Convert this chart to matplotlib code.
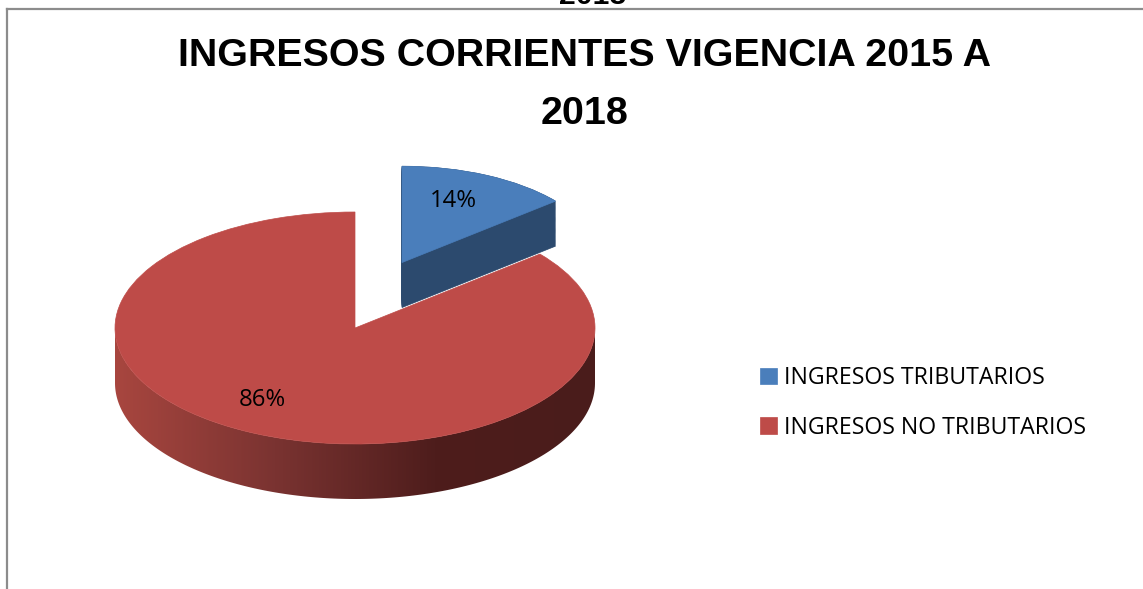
import numpy as np
import matplotlib
matplotlib.use('Agg')
import matplotlib.pyplot as plt
from matplotlib import font_manager
from matplotlib.colors import LinearSegmentedColormap
from matplotlib.patches import Polygon
from matplotlib.lines import Line2D

# ---------------- data ----------------
categories = ['INGRESOS TRIBUTARIOS', 'INGRESOS NO TRIBUTARIOS']
shares = [14, 86]
title_lines = ['INGRESOS CORRIENTES VIGENCIA 2015 A', '2018']
cut_title = '2018'

# ---------------- style ----------------
blue_top = '#4A7EBB'
blue_side = '#2C4A6E'
red_top = '#BE4B48'
red_side_cols = ['#A8463F', '#7A3331', '#4E1D1C', '#4A1C1B']

W, H = 1143, 589
fig = plt.figure(figsize=(W / 100, H / 100), dpi=100)
fig.patch.set_facecolor('white')

avail = {f.name for f in font_manager.fontManager.ttflist}


def pick(*names):
    for n in names:
        if n in avail:
            return n
    return 'DejaVu Sans'


bold_font = pick('Liberation Sans', 'DejaVu Sans')
regular = pick('Liberation Sans Narrow', 'Open Sans', 'Liberation Sans')

renderer = fig.canvas.get_renderer()


def fit_size(text, target_px, family, weight='normal', base=20):
    t = fig.text(0, 0, text, fontsize=base, family=family, weight=weight)
    w = t.get_window_extent(renderer).width
    t.remove()
    return base * target_px / w


# ---------------- geometry (pixels) ----------------
cx, cy = 355, 328      # centre of the top ellipse
a, b = 240, 116        # semi axes
d_red = 55 / b
d_blue = 45 / b
explode_blue = 0.5
r_blue = 0.83
blue_shift = (-0.017, 0.112)   # perspective correction of the exploded slice

ax = fig.add_axes([0, 0, 1, 1])
xlim = (-cx / a, (W - cx) / a)
ylim = (-(H - cy) / b, cy / b)

# blue exploded slice: side (stacked), then top
for off in np.linspace(d_blue, 0, 50):
    sw, _ = ax.pie(shares, colors=[blue_side, 'none'], startangle=90, counterclock=False,
                   explode=[explode_blue, 0], radius=r_blue,
                   center=(blue_shift[0], blue_shift[1] - off),
                   wedgeprops=dict(linewidth=0, zorder=1))
    sw[0].set_edgecolor(blue_side)
    sw[0].set_linewidth(0.5)
bw, _ = ax.pie(shares, colors=[blue_top, 'none'], startangle=90, counterclock=False,
               explode=[explode_blue, 0], radius=r_blue, center=blue_shift,
               wedgeprops=dict(linewidth=0, zorder=2))
bw[0].set_edgecolor(blue_top)
bw[0].set_linewidth(0.5)

# red side band with gradient
th = np.linspace(np.pi, 2 * np.pi, 200)
upper = np.column_stack([np.cos(th), np.sin(th)])
lower = np.column_stack([np.cos(th[::-1]), np.sin(th[::-1]) - d_red])
band = Polygon(np.vstack([upper, lower]), closed=True, facecolor='none',
               edgecolor='none', transform=ax.transData)
ax.add_patch(band)
cmap = LinearSegmentedColormap.from_list('side', red_side_cols)
grad = np.linspace(0, 1, 256).reshape(1, -1)
im = ax.imshow(grad, cmap=cmap, extent=(-1, 1, -1 - d_red, 0), aspect='auto',
               zorder=3, interpolation='bilinear')
im.set_clip_path(band)

# red top
rw, _ = ax.pie(shares, colors=['none', red_top], startangle=90, counterclock=False,
               radius=1, wedgeprops=dict(linewidth=0, zorder=4))
rw[1].set_edgecolor(red_top)
rw[1].set_linewidth(0.5)

# percentage labels
fracs = np.array(shares) / np.sum(shares)
starts = 90 - 360 * np.concatenate([[0], np.cumsum(fracs)[:-1]])
mids = np.deg2rad(starts - 180 * fracs)
lab_size = fit_size('86%', 47, regular)
bx = explode_blue * np.cos(mids[0]) + blue_shift[0]
by = explode_blue * np.sin(mids[0]) + blue_shift[1]
ax.text(bx + 0.61 * r_blue * np.cos(mids[0]), by + 0.71 * r_blue * np.sin(mids[0]),
        f'{shares[0]}%', ha='center', va='center', fontsize=lab_size,
        family=regular, color='black', zorder=6)
ax.text(0.91 * np.cos(mids[1]), 0.686 * np.sin(mids[1]),
        f'{shares[1]}%', ha='center', va='center', fontsize=lab_size,
        family=regular, color='black', zorder=6)

ax.set_aspect('auto')
ax.set_xlim(*xlim)
ax.set_ylim(*ylim)
ax.axis('off')

# legend
leg_size = fit_size(categories[1], 302, regular)
leg = fig.legend([bw[0], rw[1]], categories, loc='center left',
                 bbox_to_anchor=(760 / W, 1 - 403 / H), frameon=False,
                 handlelength=0.72, handleheight=0.72,
                 handletextpad=0.3, labelspacing=1.1, borderpad=0,
                 borderaxespad=0, prop=dict(family=regular, size=leg_size))

# titles
t_size = fit_size(title_lines[0], 814, bold_font, 'bold')
fig.text(585 / W, 1 - 56 / H, title_lines[0], ha='center', va='center',
         fontsize=t_size, weight='bold', family=bold_font)
fig.text(585 / W, 1 - 114 / H, title_lines[1], ha='center', va='center',
         fontsize=t_size, weight='bold', family=bold_font)
c_size = fit_size(cut_title, 67, bold_font, 'bold')
fig.text(593 / W, 1 - 4 / H, cut_title, ha='center', va='baseline',
         fontsize=c_size, weight='bold', family=bold_font)

# chart area border (top and left visible)
fig.add_artist(Line2D([7 / W, 1], [1 - 9 / H, 1 - 9 / H], transform=fig.transFigure,
                      color='#8C8C8C', linewidth=1.6))
fig.add_artist(Line2D([7 / W, 7 / W], [0, 1 - 9 / H], transform=fig.transFigure,
                      color='#8C8C8C', linewidth=1.6))

fig.savefig('out.png', dpi=100)
